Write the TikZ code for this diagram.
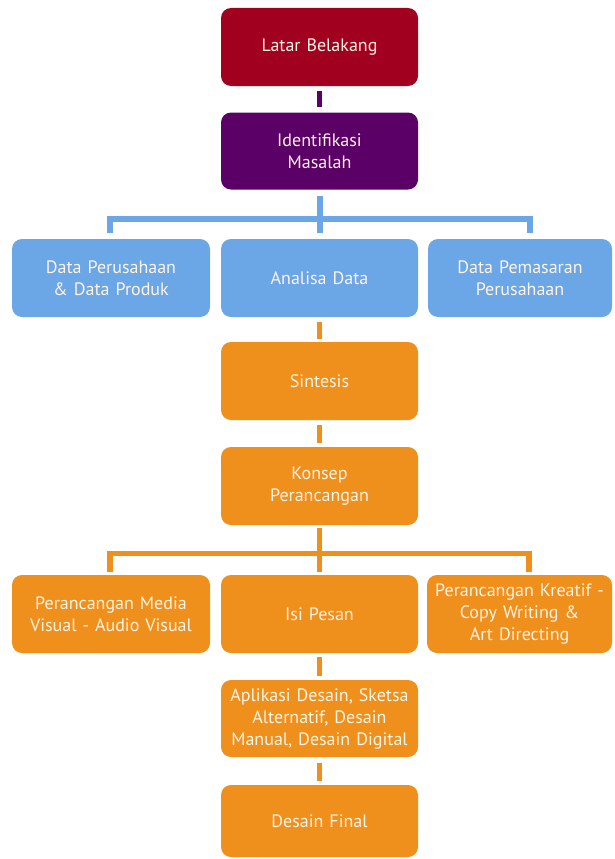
\documentclass[tikz,border=0pt]{standalone}
\usepackage{fontspec}
\setmainfont{PT Sans}[WordSpace=0.8]
\definecolor{cred}{HTML}{A1001E}
\definecolor{cpurple}{HTML}{5B0066}
\definecolor{cblue}{HTML}{6BA6E6}
\definecolor{corange}{HTML}{F0901C}
\definecolor{ctext}{HTML}{FFF3E6}
\begin{document}
\begin{tikzpicture}[x=1pt,y=-1pt,
  box/.style={rounded corners=10pt, minimum width=197pt, minimum height=78pt, inner sep=0pt,
    text width=194pt, align=center, font=\fontsize{18}{22}\selectfont, text=ctext},
  redbox/.style={box, fill=cred},
  purplebox/.style={box, fill=cpurple},
  bluebox/.style={box, fill=cblue},
  orangebox/.style={box, fill=corange},
  link/.style={line width=5pt},
  bluelink/.style={line width=6pt, cblue},
  orangelink/.style={line width=5.5pt, corange}]
\useasboundingbox (0,0) rectangle (615,859);
\fill[white] (0,0) rectangle (615,859);
\node[redbox] (lb) at (319.5,47) {Latar Belakang};
\node[purplebox, minimum height=77pt] (im) at (319.5,151) {Identifikasi\\Masalah};
\node[bluebox, minimum width=198pt] (dp) at (111,278) {Data Perusahaan\\\& Data Produk};
\node[bluebox] (ad) at (319.5,278) {Analisa Data};
\node[bluebox, minimum width=184pt, text width=182pt] (dm) at (520,278) {Data Pemasaran\\Perusahaan};
\node[orangebox] (si) at (319.5,381) {Sintesis};
\node[orangebox] (kp) at (319.5,486) {Konsep\\Perancangan};
\node[orangebox, minimum width=198pt] (pm) at (111,614) {Perancangan Media\\Visual - Audio Visual};
\node[orangebox] (ip) at (319.5,614) {Isi Pesan};
\node[orangebox, minimum width=185pt, text width=184pt] (pk) at (519.5,614) {Perancangan Kreatif -\\Copy Writing \&\\Art Directing};
\node[orangebox, minimum height=77pt] (ap) at (319.5,718.5) {Aplikasi Desain, Sketsa\\Alternatif, Desain\\Manual, Desain Digital};
\node[orangebox, minimum height=72pt] (df) at (319.5,821) {Desain Final};
% connectors
\draw[link, cpurple, shorten <=5pt, shorten >=5pt] (lb.south) -- (im.north);
\coordinate (bl) at (110,219);
\coordinate (br) at (530,219);
\draw[bluelink, shorten <=6pt, shorten >=6pt] (im.south) -- (ad.north);
\draw[bluelink, shorten <=6pt, shorten >=6pt] (bl |- dp.north) -- (bl) -- (br) -- (br |- dm.north);
\draw[orangelink, shorten <=5pt, shorten >=3pt] (ad.south) -- (si.north);
\draw[orangelink, shorten <=5pt, shorten >=4pt] (si.south) -- (kp.north);
\coordinate (ol) at (110,553.5);
\coordinate (or) at (529,553.5);
\draw[orangelink, shorten <=3pt, shorten >=3pt] (kp.south) -- (ip.north);
\draw[orangelink, shorten <=3pt, shorten >=3pt] (ol |- pm.north) -- (ol) -- (or) -- (or |- pk.north);
\draw[orangelink, shorten <=4pt, shorten >=4pt] (ip.south) -- (ap.north);
\draw[orangelink, shorten <=6pt, shorten >=4pt] (ap.south) -- (df.north);
\end{tikzpicture}
\end{document}
